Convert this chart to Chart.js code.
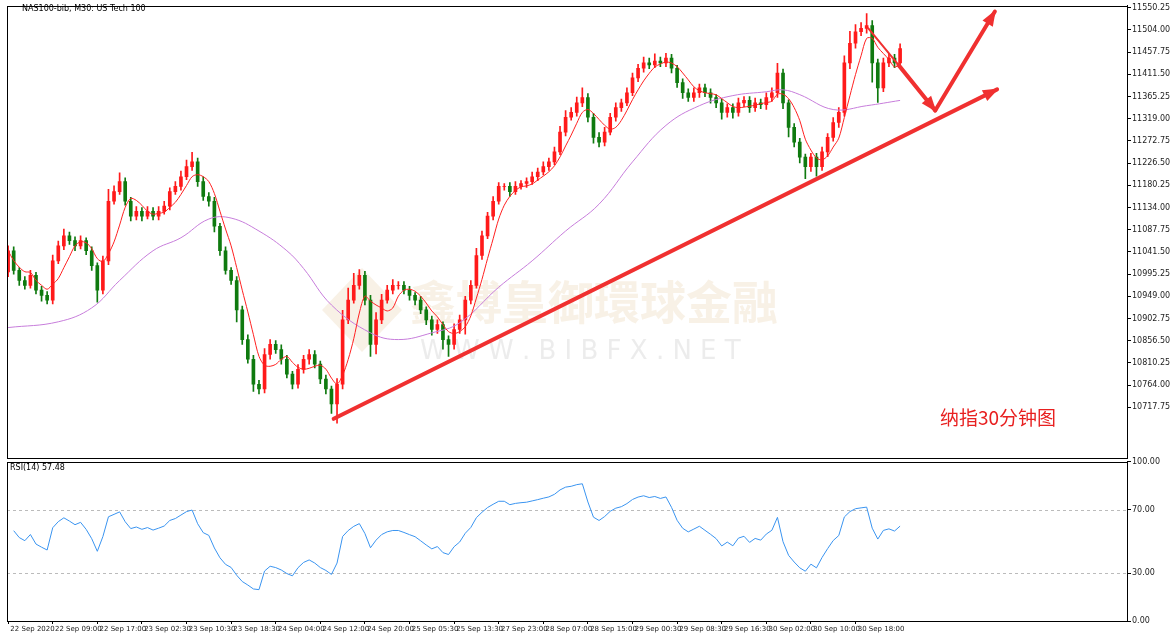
<!DOCTYPE html>
<html><head><meta charset="utf-8">
<script src="https://cdn.jsdelivr.net/npm/chart.js@4/dist/chart.umd.min.js"></script>
<style>
html,body{margin:0;padding:0;background:#fff;width:1170px;height:637px;overflow:hidden;font-family:"DejaVu Sans",sans-serif}
#p{position:absolute;left:0;top:0;width:1170px;height:464px}
#r{position:absolute;left:0;top:456px;width:1170px;height:181px}
#t1{position:absolute;left:22px;top:4px;font-size:8px;color:#000;font-family:"DejaVu Sans"}
#t2{position:absolute;left:10px;top:463px;font-size:8px;color:#000;font-family:"DejaVu Sans"}
#lab{position:absolute;left:940px;top:403px;font-size:19px;color:#e82020;font-family:"Noto Sans CJK SC",sans-serif}
</style></head><body>
<div id="p"><canvas id="cp"></canvas></div>
<div id="r"><canvas id="cr"></canvas></div>
<div id="t1">NAS100-bib, M30: US Tech 100</div>
<div id="t2">RSI(14) 57.48</div>
<div id="lab">纳指30分钟图</div>
<script>
const closes=[11044,11003,10982,10972,10993,10962,10951,10941,11023,11054,11075,11065,11054,11065,11044,11013,10962,11023,11147,11167,
11188,11147,11116,11126,11116,11126,11116,11126,11137,11167,11178,11198,11219,11229,11188,11157,11147,11095,11044,11003,
10982,10921,10859,10818,10766,10756,10828,10849,10838,10818,10787,10766,10797,10818,10828,10808,10777,10756,10725,10766,
10900,10941,10972,10993,10941,10849,10900,10941,10962,10972,10972,10962,10951,10941,10921,10900,10880,10890,10859,10849,
10880,10900,10941,10972,11034,11075,11116,11147,11178,11178,11167,11178,11184,11188,11198,11208,11219,11229,11250,11291,
11322,11332,11352,11363,11322,11280,11270,11291,11322,11342,11352,11373,11404,11424,11435,11431,11439,11435,11445,11424,
11394,11373,11363,11373,11383,11373,11363,11352,11332,11342,11332,11352,11357,11342,11352,11348,11363,11373,11414,11352,
11301,11270,11239,11219,11239,11219,11250,11280,11311,11332,11435,11476,11500,11507,11513,11435,11383,11435,11445,11435,11465];
const wickUp=[10,8,6,8,10,6,8,8,12,10,14,8,8,10,6,8,6,10,25,12,
18,8,8,10,8,10,8,10,10,8,10,12,14,20,8,10,8,8,6,8,
6,8,8,10,8,8,12,10,8,10,8,6,10,8,10,8,6,8,6,12,
20,25,25,12,8,10,15,12,10,12,8,8,8,6,8,6,8,10,6,8,
12,10,8,10,15,10,8,10,8,6,8,10,6,8,10,8,10,8,10,12,
14,10,12,20,8,8,10,10,8,10,8,10,10,8,12,10,15,8,10,8,
6,8,8,10,8,8,8,6,8,8,8,10,8,8,10,8,10,10,20,8,
6,8,8,6,8,8,10,8,10,10,15,25,15,12,25,10,8,10,10,8,10];
const wickDn=[10,8,10,8,6,8,12,8,8,6,8,8,10,6,8,10,25,8,8,6,
6,8,10,8,10,6,8,8,6,8,6,8,6,8,10,8,10,12,10,8,
8,25,10,8,15,10,8,10,8,10,8,10,8,8,10,8,10,10,20,40,
10,8,6,8,10,25,20,8,6,8,8,8,10,10,8,10,12,8,20,25,
10,8,30,8,6,8,6,8,6,8,10,6,6,8,6,8,6,8,6,6,
8,6,8,8,10,12,10,8,6,8,8,6,6,8,8,8,6,8,8,10,
10,12,8,8,10,8,12,10,14,10,12,8,8,10,8,8,10,8,10,12,
20,10,12,25,10,20,8,10,8,10,8,12,10,8,10,40,30,8,8,10,8];
const purpleIdx=[0,9,15,20,26,31,36,40,45,50,53,58,65,70,76,81,88,94,100,106,112,118,124,130,136,139,142,148,154,160];
const purpleVal=[10884,10896,10925,10982,11044,11071,11110,11112,11085,11044,11007,10931,10873,10859,10873,10894,10968,11023,11085,11141,11229,11305,11346,11367,11375,11379,11369,11338,11346,11357];
const xLabels=["22 Sep 2020","22 Sep 09:00","22 Sep 17:00","23 Sep 02:30","23 Sep 10:30","23 Sep 18:30","24 Sep 04:00","24 Sep 12:00","24 Sep 20:00","25 Sep 05:30","25 Sep 13:30","27 Sep 23:00","28 Sep 07:00","28 Sep 15:00","29 Sep 00:30","29 Sep 08:30","29 Sep 16:30","30 Sep 02:00","30 Sep 10:00","30 Sep 18:00"];
const priceTicks=[11550.25,11504.00,11457.75,11411.50,11365.25,11319.00,11272.75,11226.50,11180.25,11134.00,11087.75,11041.50,10995.25,10949.00,10902.75,10856.50,10810.25,10764.00,10717.75];
const rsiTicks=[0,30,70,100];
const trendLine=[[58.4,10694],[177.4,11380]];
const thinLine=[[154.3,11507],[159.7,11431]];
const downArrow=[[159.7,11431],[166.3,11336]];
const upArrow=[[166.3,11336],[177,11542]];

const opens=closes.map((c,i)=>i===0?11000:closes[i-1]);
const bodies=closes.map((c,i)=>({x:i,y:[opens[i],c]}));
const wicks=closes.map((c,i)=>({x:i,y:[Math.min(opens[i],c)-wickDn[i],Math.max(opens[i],c)+wickUp[i]]}));
const cols=closes.map((c,i)=>c>=opens[i]?'#ff1a1a':'#0f7a0f');
const ma=closes.map((c,i)=>{const s=closes.slice(Math.max(0,i-4),i+1);return {x:i,y:s.reduce((a,b)=>a+b,0)/s.length};});
const rsi=[];let ag=12,al=6;
for(let i=1;i<closes.length;i++){const d=closes[i]-closes[i-1];const g=Math.max(d,0),l=Math.max(-d,0);
 ag=(ag*13+g)/14;al=(al*13+l)/14;rsi.push({x:i,y:100-100/(1+ag/al)});}

const XMIN=-0.2,XMAX=200.7;
const frame={id:'frame',afterDraw(c){const a=c.chartArea,x=c.ctx;x.save();x.strokeStyle='#000';x.lineWidth=1;x.strokeRect(Math.round(a.left)+0.5,Math.round(a.top)+0.5,Math.round(a.right-a.left),Math.round(a.bottom-a.top));x.restore();}};
function arrow(ctx,xs,ys,p,w,head){const a=[xs.getPixelForValue(p[0][0]),ys.getPixelForValue(p[0][1])],b=[xs.getPixelForValue(p[1][0]),ys.getPixelForValue(p[1][1])];
 ctx.strokeStyle=ctx.fillStyle='#f03030';ctx.lineWidth=w;ctx.beginPath();ctx.moveTo(a[0],a[1]);ctx.lineTo(b[0],b[1]);ctx.stroke();
 if(head){const ang=Math.atan2(b[1]-a[1],b[0]-a[0]);ctx.beginPath();ctx.moveTo(b[0]+2*Math.cos(ang),b[1]+2*Math.sin(ang));
 ctx.lineTo(b[0]-14*Math.cos(ang)+6*Math.sin(ang),b[1]-14*Math.sin(ang)-6*Math.cos(ang));
 ctx.lineTo(b[0]-14*Math.cos(ang)-6*Math.sin(ang),b[1]-14*Math.sin(ang)+6*Math.cos(ang));ctx.closePath();ctx.fill();}}
const deco={id:'deco',beforeDatasetsDraw(c){const x=c.ctx;x.save();x.fillStyle='rgba(225,190,140,0.22)';
 x.beginPath();x.moveTo(322,310);x.lineTo(362,268);x.lineTo(402,310);x.lineTo(362,352);x.closePath();x.fill();
 x.font='bold 46px "Noto Sans CJK SC"';x.textBaseline='middle';x.fillText('鑫博皇御環球金融',410,302);
 x.fillStyle='rgba(200,200,200,0.35)';x.font='26px "DejaVu Sans"';x.fillText('W W W . B I B F X . N E T',420,352);x.restore();},
 afterDatasetsDraw(c){const x=c.ctx,xs=c.scales.x,ys=c.scales.y;x.save();x.lineCap='round';
 arrow(x,xs,ys,trendLine,4,true);arrow(x,xs,ys,thinLine,2,false);arrow(x,xs,ys,downArrow,4,true);arrow(x,xs,ys,upArrow,4,true);x.restore();}};

const yTickFont={size:8,family:'DejaVu Sans'};
new Chart(document.getElementById('cp'),{type:'bar',
 data:{datasets:[
  {type:'line',data:ma,borderColor:'#ff2020',borderWidth:1,pointRadius:0,tension:0.3,order:0},
  {type:'line',data:purpleIdx.map((v,i)=>({x:v,y:purpleVal[i]})),borderColor:'#c77ddb',borderWidth:1,pointRadius:0,tension:0.4,order:0},
  {data:bodies,backgroundColor:cols,barThickness:3,grouped:false,order:1},
  {data:wicks,backgroundColor:cols,barThickness:1,grouped:false,order:2}]},
 options:{responsive:true,maintainAspectRatio:false,animation:false,events:[],
  layout:{padding:{left:7,top:0,bottom:0,right:0}},
  plugins:{legend:{display:false},tooltip:{enabled:false}},
  scales:{x:{type:'linear',min:XMIN,max:XMAX,offset:false,display:false},
   y:{position:'right',min:10612,max:11554,afterBuildTicks:s=>{s.ticks=priceTicks.map(v=>({value:v}));},afterFit:s=>{s.width=43;},
    grid:{drawOnChartArea:false,tickLength:4,color:'#000'},border:{color:'#000'},
    ticks:{color:'#222',font:yTickFont,padding:1,callback:v=>v.toFixed(2)}}}},
 plugins:[frame,deco]});

const dash={id:'dash',beforeDatasetsDraw(c){const x=c.ctx,ys=c.scales.y,a=c.chartArea;x.save();x.strokeStyle='#bbb';x.setLineDash([3,3]);x.lineWidth=1;
 [30,70].forEach(v=>{const y=Math.round(ys.getPixelForValue(v))+0.5;x.beginPath();x.moveTo(a.left,y);x.lineTo(a.right,y);x.stroke();});x.restore();}};
new Chart(document.getElementById('cr'),{type:'line',
 data:{datasets:[{data:rsi,borderColor:'#3a94f0',borderWidth:1,pointRadius:0,tension:0}]},
 options:{responsive:true,maintainAspectRatio:false,animation:false,events:[],
  layout:{padding:{left:7,top:0,bottom:0,right:0}},
  plugins:{legend:{display:false},tooltip:{enabled:false}},
  scales:{x:{type:'linear',min:XMIN,max:XMAX,offset:false,afterBuildTicks:s=>{s.ticks=xLabels.map((l,k)=>({value:k*8}));},afterFit:s=>{s.height=16;},
    grid:{drawOnChartArea:false,tickLength:3,color:'#000'},border:{color:'#000'},
    ticks:{align:'start',autoSkip:false,maxRotation:0,color:'#222',font:{size:7,family:'DejaVu Sans'},padding:1,callback:v=>' '+xLabels[v/8]}},
   y:{position:'right',min:0,max:100,afterBuildTicks:s=>{s.ticks=rsiTicks.map(v=>({value:v}));},afterFit:s=>{s.width=43;},
    grid:{drawOnChartArea:false,tickLength:4,color:'#000'},border:{color:'#000'},
    ticks:{color:'#222',font:yTickFont,padding:1,callback:v=>v.toFixed(2)}}}},
 plugins:[frame,dash]});
</script></body></html>
